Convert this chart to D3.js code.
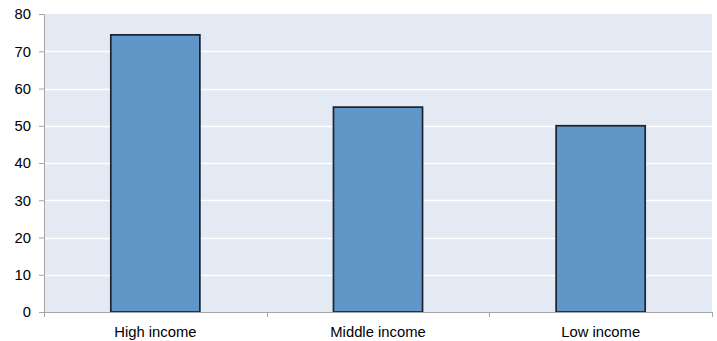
<!DOCTYPE html>
<html>
<head>
<meta charset="utf-8">
<script src="https://cdn.jsdelivr.net/npm/d3@7"></script>
<style>
  html, body { margin: 0; padding: 0; background: #ffffff; }
  svg { display: block; }
  text { font-family: "Liberation Sans", Arial, sans-serif; fill: #000; }
</style>
</head>
<body>
<svg id="chart" width="717" height="341"></svg>
<script>
// Share by income group
const categories = ["High income", "Middle income", "Low income"];
const values = [74.4, 55, 50];
const yTicks = [0, 10, 20, 30, 40, 50, 60, 70, 80];

const W = 717, H = 341;
const margin = { top: 14, right: 5, bottom: 29, left: 44 };
const innerW = W - margin.left - margin.right;
const innerH = H - margin.top - margin.bottom;
const fontSize = 14.8;

const svg = d3.select("#chart");
const g = svg.append("g").attr("transform", `translate(${margin.left},${margin.top})`);

const x = d3.scaleBand().domain(categories).range([0, innerW]).paddingInner(0.6).paddingOuter(0.3);
const y = d3.scaleLinear().domain([0, 80]).range([innerH, 0]);

// plot background
g.append("rect").attr("x", 0).attr("y", 0).attr("width", innerW).attr("height", innerH)
  .attr("fill", "#e3eaf4");

// horizontal gridlines
g.selectAll("line.grid").data(yTicks.filter(d => d > 0 && d < 80)).enter().append("line")
  .attr("class", "grid")
  .attr("x1", 0).attr("x2", innerW)
  .attr("y1", d => Math.round(y(d)) + 0.5).attr("y2", d => Math.round(y(d)) + 0.5)
  .attr("stroke", "#ffffff").attr("stroke-width", 1.3);

// bars
g.selectAll("rect.bar").data(categories).enter().append("rect")
  .attr("class", "bar")
  .attr("x", d => x(d))
  .attr("y", (d, i) => y(values[i]))
  .attr("width", x.bandwidth())
  .attr("height", (d, i) => innerH - y(values[i]))
  .attr("fill", "#6196c9")
  .attr("stroke", "#1a232e").attr("stroke-width", 1.7);

// y axis
const yAxis = g.append("g")
  .call(d3.axisLeft(y).tickValues(yTicks).tickSize(5).tickPadding(8).tickFormat(d3.format("d")));
yAxis.select(".domain").attr("stroke", "#a6a6a6").attr("d", `M-5,0.5H0.5V${innerH}`);
yAxis.selectAll(".tick line").attr("stroke", "#a6a6a6");
yAxis.selectAll(".tick text").attr("font-size", fontSize).attr("font-family", "Liberation Sans, Arial, sans-serif");

// x axis with ticks at category boundaries
const xAxisG = g.append("g").attr("transform", `translate(0,${innerH})`);
xAxisG.append("line").attr("x1", 0).attr("x2", innerW).attr("y1", 0.5).attr("y2", 0.5)
  .attr("stroke", "#a6a6a6");
const step = x.step();
const boundaries = d3.range(categories.length + 1).map(i => i === 0 ? 0 : Math.min(innerW, x(categories[0]) - x.paddingOuter() * step + i * step));
xAxisG.selectAll("line.tk").data(boundaries).enter().append("line")
  .attr("class", "tk")
  .attr("x1", d => Math.round(d) + 0.5).attr("x2", d => Math.round(d) + 0.5)
  .attr("y1", 0).attr("y2", 5)
  .attr("stroke", "#a6a6a6");
xAxisG.selectAll("text").data(categories).enter().append("text")
  .attr("x", d => x(d) + x.bandwidth() / 2)
  .attr("y", 25)
  .attr("text-anchor", "middle")
  .attr("font-size", fontSize)
  .text(d => d);
</script>
</body>
</html>
